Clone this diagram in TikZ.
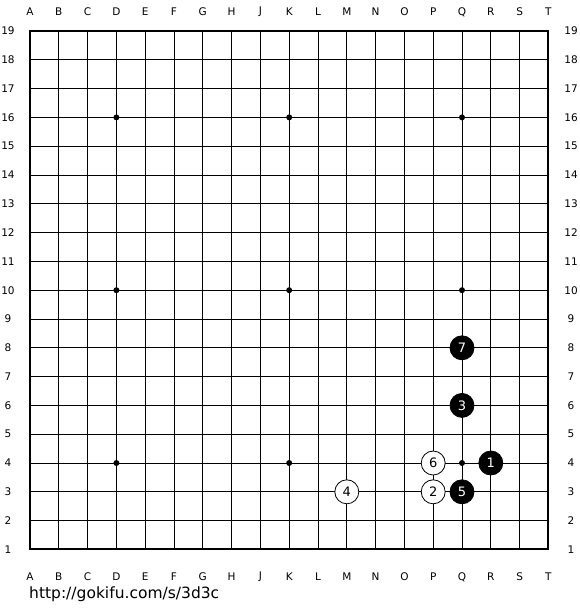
\documentclass[tikz,border=0pt]{standalone}
\usepackage{fontspec}
\setmainfont{DejaVu Sans}
\begin{document}
\begin{tikzpicture}[x=1pt,y=-1pt,
  gridline/.style={line width=1pt,black},
  border/.style={line width=2pt,black},
  lab/.style={font=\fontsize{10.5}{12}\selectfont,inner sep=0pt},
  bstone/.style={circle,fill=black,draw=black,line width=0.8pt,minimum size=24pt,inner sep=0pt,text=white,font=\fontsize{13}{14}\selectfont},
  wstone/.style={circle,fill=white,draw=black,line width=0.8pt,minimum size=24pt,inner sep=0pt,text=black,font=\fontsize{13}{14}\selectfont},
  star/.style={circle,fill=black,minimum size=6pt,inner sep=0pt}]
\useasboundingbox (0,0) rectangle (580,610);
\fill[white] (0,0) rectangle (580,610);
\def\sp{28.8}
\def\ox{30}
\def\oy{31}
% grid lines
\foreach \i in {1,...,17}{
  \draw[gridline] ({\ox+\i*\sp},\oy) -- ({\ox+\i*\sp},{\oy+18*\sp});
  \draw[gridline] (\ox,{\oy+\i*\sp}) -- ({\ox+18*\sp},{\oy+\i*\sp});
}
\draw[border] (\ox,\oy) rectangle ({\ox+18*\sp},{\oy+18*\sp});
% column labels
\foreach \l [count=\c from 0] in {A,B,C,D,E,F,G,H,J,K,L,M,N,O,P,Q,R,S,T}{
  \node[lab] (top\l) at ({\ox+\c*\sp},12) {\l};
  \node[lab] (bot\l) at ({\ox+\c*\sp},577) {\l};
}
% row labels
\foreach \r in {1,...,19}{
  \node[lab] (left\r) at (8,{\oy+(19-\r)*\sp}) {\r};
  \node[lab] (right\r) at (571,{\oy+(19-\r)*\sp}) {\r};
}
% star points (col index from 0, row number)
\foreach \c/\r [count=\k] in {3/4,9/4,15/4,3/10,9/10,15/10,3/16,9/16,15/16}{
  \node[star] (star\k) at ({\ox+\c*\sp},{\oy+(19-\r)*\sp}) {};
}
% stones
\node[bstone] (s1) at ({\ox+16*\sp},{\oy+(19-4)*\sp}) {1};
\node[wstone] (s2) at ({\ox+14*\sp},{\oy+(19-3)*\sp}) {2};
\node[bstone] (s3) at ({\ox+15*\sp},{\oy+(19-6)*\sp}) {3};
\node[wstone] (s4) at ({\ox+11*\sp},{\oy+(19-3)*\sp}) {4};
\node[bstone] (s5) at ({\ox+15*\sp},{\oy+(19-3)*\sp}) {5};
\node[wstone] (s6) at ({\ox+14*\sp},{\oy+(19-4)*\sp}) {6};
\node[bstone] (s7) at ({\ox+15*\sp},{\oy+(19-8)*\sp}) {7};
% url
\node[anchor=west,inner sep=0pt,font=\fontsize{15.5}{17}\selectfont] (url) at (29,594) {http://gokifu.com/s/3d3c};
\end{tikzpicture}
\end{document}
